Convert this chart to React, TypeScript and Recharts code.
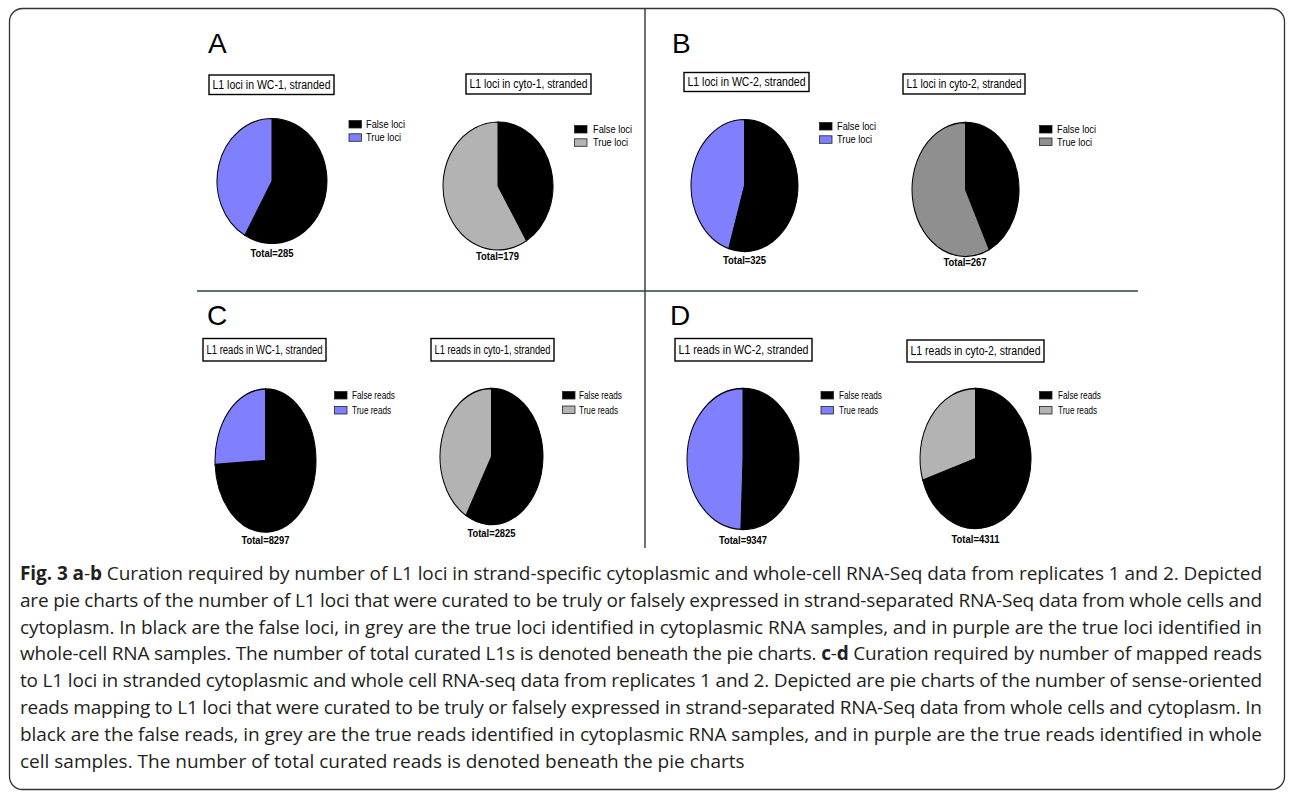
import { PieChart, Pie, Cell } from "recharts";

// curated L1 loci / reads per sample (false = black, true = coloured)
const samples = ["WC-1", "cyto-1", "WC-2", "cyto-2"];
const lociFalse = [166, 74, 178, 114];
const lociTrue = [119, 105, 147, 153];
const readsFalse = [6148, 1646, 4730, 3017];
const readsTrue = [2149, 1179, 4617, 1294];
const panelLetters = ["A", "B", "C", "D"];

const captionLines: [string, boolean][][] = [
  [["Fig. 3 a", true], ["-", false], ["b", true], [" Curation required by number of L1 loci in strand-specific cytoplasmic and whole-cell RNA-Seq data from replicates 1 and 2. Depicted", false]],
  [["are pie charts of the number of L1 loci that were curated to be truly or falsely expressed in strand-separated RNA-Seq data from whole cells and", false]],
  [["cytoplasm. In black are the false loci, in grey are the true loci identified in cytoplasmic RNA samples, and in purple are the true loci identified in", false]],
  [["whole-cell RNA samples. The number of total curated L1s is denoted beneath the pie charts. ", false], ["c", true], ["-", false], ["d", true], [" Curation required by number of mapped reads", false]],
  [["to L1 loci in stranded cytoplasmic and whole cell RNA-seq data from replicates 1 and 2. Depicted are pie charts of the number of sense-oriented", false]],
  [["reads mapping to L1 loci that were curated to be truly or falsely expressed in strand-separated RNA-Seq data from whole cells and cytoplasm. In", false]],
  [["black are the false reads, in grey are the true reads identified in cytoplasmic RNA samples, and in purple are the true reads identified in whole", false]],
  [["cell samples. The number of total curated reads is denoted beneath the pie charts", false]],
];

const PURPLE = "#8080ff";
const LIGHT_GREY = "#b3b3b3";
const DARK_GREY = "#8f8f8f";
const NARROW = "'Liberation Sans Narrow', 'Liberation Sans', Arial, sans-serif";

type Slot = {
  cx: number; cy: number; rx: number; ry: number;
  box: [number, number, number, number];
  leg: [number, number, number];
  gap: number;
  totalY: number;
};

// where each of the 8 pies sits on the page: loci row first, then reads row
const slots: Slot[] = [
  { cx: 272, cy: 180.5, rx: 55, ry: 62.5, box: [209, 75, 125, 19.5], leg: [349, 120.5, 366], gap: 13.3, totalY: 256.5 },
  { cx: 497.5, cy: 186.3, rx: 55, ry: 64, box: [466, 74, 125, 20], leg: [574.5, 125.5, 593], gap: 13.3, totalY: 259.5 },
  { cx: 744.5, cy: 185, rx: 53.5, ry: 66, box: [684, 72.5, 125, 19], leg: [819.5, 122.5, 837], gap: 13.3, totalY: 263.5 },
  { cx: 965, cy: 189, rx: 53.5, ry: 67, box: [903, 74, 122, 20], leg: [1039.5, 125.5, 1057], gap: 12.5, totalY: 266 },
  { cx: 265.5, cy: 460, rx: 50.5, ry: 71.5, box: [203, 338.5, 123, 22.5], leg: [334.5, 391.5, 352], gap: 15, totalY: 543.5 },
  { cx: 491.5, cy: 456.5, rx: 51.5, ry: 68, box: [431, 338.5, 123, 22.5], leg: [562.5, 391.5, 579], gap: 14.5, totalY: 536.5 },
  { cx: 743, cy: 458.5, rx: 56, ry: 70.5, box: [675, 338.5, 137, 22.5], leg: [821, 391.5, 839], gap: 15, totalY: 543.5 },
  { cx: 975.5, cy: 458, rx: 55.5, ry: 70, box: [907, 340, 137, 22], leg: [1039.5, 391.5, 1058], gap: 15, totalY: 543 },
];

const letterPos = [[208, 53], [672, 53], [207, 325], [670, 325]];

type PieSpec = {
  title: string;
  falseLabel: string;
  trueLabel: string;
  values: number[];
  trueColor: string;
};

const pies: PieSpec[] = [];
samples.forEach((s, i) => {
  pies.push({
    title: `L1 loci in ${s}, stranded`,
    falseLabel: "False loci",
    trueLabel: "True loci",
    values: [lociFalse[i], lociTrue[i]],
    trueColor: s.startsWith("WC") ? PURPLE : s === "cyto-2" ? DARK_GREY : LIGHT_GREY,
  });
});
samples.forEach((s, i) => {
  pies.push({
    title: `L1 reads in ${s}, stranded`,
    falseLabel: "False reads",
    trueLabel: "True reads",
    values: [readsFalse[i], readsTrue[i]],
    trueColor: s.startsWith("WC") ? PURPLE : LIGHT_GREY,
  });
});

// recharts only draws circles, so each pie is squashed into an upright ellipse
function OvalPie({ spec, slot }: { spec: PieSpec; slot: Slot }) {
  const size = slot.rx * 2 + 4;
  const data = [
    { name: spec.falseLabel, value: spec.values[0] },
    { name: spec.trueLabel, value: spec.values[1] },
  ];
  const colors = ["#000000", spec.trueColor];
  return (
    <div
      style={{
        position: "absolute",
        left: slot.cx - size / 2,
        top: slot.cy - size / 2,
        width: size,
        height: size,
        transform: `scaleY(${slot.ry / slot.rx})`,
        transformOrigin: "50% 50%",
      }}
    >
      <PieChart width={size} height={size} margin={{ top: 0, right: 0, bottom: 0, left: 0 }}>
        <Pie
          data={data}
          dataKey="value"
          cx="50%"
          cy="50%"
          innerRadius={0}
          outerRadius={slot.rx}
          startAngle={90}
          endAngle={-270}
          stroke="#000"
          strokeWidth={1}
          isAnimationActive={false}
        >
          {data.map((d, i) => (
            <Cell key={d.name} fill={colors[i]} />
          ))}
        </Pie>
      </PieChart>
    </div>
  );
}

function Annotations({ spec, slot }: { spec: PieSpec; slot: Slot }) {
  const [bx, by, bw, bh] = slot.box;
  const [lx, ly, tx] = slot.leg;
  const total = spec.values[0] + spec.values[1];
  const totalText = `Total=${total}`;
  const rows = [
    { label: spec.falseLabel, color: "#000" },
    { label: spec.trueLabel, color: spec.trueColor },
  ];
  return (
    <g fontFamily={NARROW}>
      <rect x={bx} y={by} width={bw} height={bh} fill="#fff" stroke="#000" strokeWidth={1.4} />
      <text
        x={bx + bw / 2}
        y={by + bh / 2 + 4}
        textAnchor="middle"
        fontSize={12}
        textLength={bw - 7}
        lengthAdjust="spacingAndGlyphs"
      >
        {spec.title}
      </text>
      {rows.map((r, i) => (
        <g key={r.label}>
          <rect x={lx} y={ly + i * slot.gap} width={12.5} height={7.5} fill={r.color} stroke="#222" strokeWidth={0.8} />
          <text
            x={tx}
            y={ly + i * slot.gap + 7.5}
            fontSize={10.5}
            textLength={r.label.length * 3.9}
            lengthAdjust="spacingAndGlyphs"
          >
            {r.label}
          </text>
        </g>
      ))}
      <text
        x={slot.cx}
        y={slot.totalY}
        textAnchor="middle"
        fontSize={10}
        fontWeight="bold"
        textLength={totalText.length * 4.8}
        lengthAdjust="spacingAndGlyphs"
      >
        {totalText}
      </text>
    </g>
  );
}

export default function App() {
  return (
    <div style={{ position: "absolute", left: 0, top: 0, width: 1292, height: 795, background: "#fff" }}>
      {pies.map((p, i) => (
        <OvalPie key={p.title} spec={p} slot={slots[i]} />
      ))}
      <svg
        width={1292}
        height={795}
        style={{ position: "absolute", left: 0, top: 0, pointerEvents: "none" }}
      >
        <rect x={9.5} y={8.5} width={1275} height={781} rx={13} fill="none" stroke="#333" strokeWidth={1.3} />
        <line x1={645} y1={9} x2={645} y2={548} stroke="#111" strokeWidth={1.2} />
        <line x1={197} y1={291} x2={1138} y2={291} stroke="#2b4545" strokeWidth={1.4} />
        {panelLetters.map((l, i) => (
          <text key={l} x={letterPos[i][0]} y={letterPos[i][1]} fontSize={28} fontFamily="'Liberation Sans', Arial, sans-serif">
            {l}
          </text>
        ))}
        {pies.map((p, i) => (
          <Annotations key={p.title} spec={p} slot={slots[i]} />
        ))}
        {/* justified caption: every line but the last is stretched to the full width */}
        <g fontFamily="'Open Sans', 'Noto Sans', sans-serif" fontSize={19} fill="#231f20">
          {captionLines.map((segs, i) => {
            const last = i === captionLines.length - 1;
            return (
              <text key={i} x={20} y={580 + i * 26.8} textLength={last ? undefined : 1242} lengthAdjust="spacing">
                {segs.map(([t, b], j) => (
                  <tspan key={j} fontWeight={b ? "bold" : "normal"}>
                    {t}
                  </tspan>
                ))}
              </text>
            );
          })}
        </g>
      </svg>
    </div>
  );
}
